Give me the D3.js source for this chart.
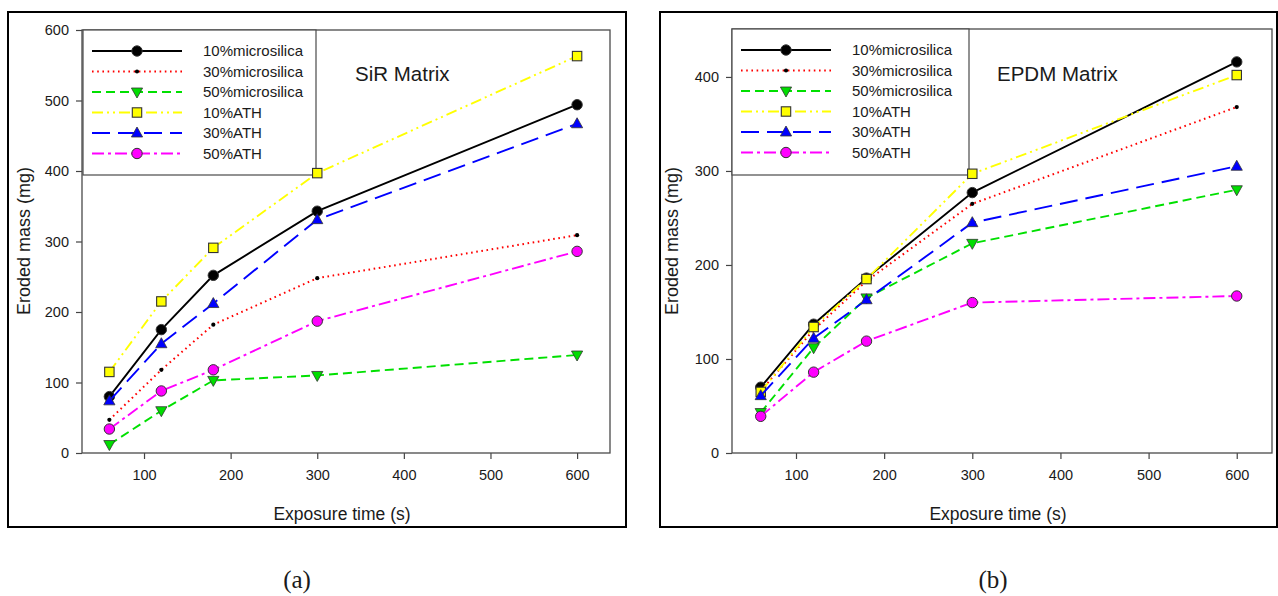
<!DOCTYPE html>
<html>
<head>
<meta charset="utf-8">
<script src="https://cdn.jsdelivr.net/npm/d3@7/dist/d3.min.js"></script>
<style>
  html, body { margin: 0; padding: 0; background: #fff; }
  svg { display: block; }
  text { font-family: "Liberation Sans", Arial, sans-serif; fill: #1a1a1a; }
</style>
</head>
<body>
<svg id="chart" width="1278" height="596"></svg>
<script>
// ---------------- DATA ----------------
const exposureTimes = [60, 120, 180, 300, 600];
const seriesNames = ["10%microsilica", "30%microsilica", "50%microsilica", "10%ATH", "30%ATH", "50%ATH"];

// SiR matrix (panel a), eroded mass in mg
const sir10Microsilica = [80, 175, 252, 343, 494];
const sir30Microsilica = [47, 118, 182, 248, 309];
const sir50Microsilica = [12, 60, 103, 110, 139];
const sir10ATH = [115, 215, 291, 397, 563];
const sir30ATH = [74, 155, 212, 331, 467];
const sir50ATH = [34, 88, 118, 187, 286];

// EPDM matrix (panel b), eroded mass in mg
const epdm10Microsilica = [70, 137, 186, 277, 416];
const epdm30Microsilica = [66, 131, 183, 265, 368];
const epdm50Microsilica = [43, 112, 165, 223, 280];
const epdm10ATH = [65, 134, 185, 297, 402];
const epdm30ATH = [61, 122, 163, 245, 305];
const epdm50ATH = [39, 86, 119, 160, 167];

const xTickValues = [100, 200, 300, 400, 500, 600];
const sirYTicks = [0, 100, 200, 300, 400, 500, 600];
const epdmYTicks = [0, 100, 200, 300, 400];

// ---------------- STYLES ----------------
const seriesStyles = [
  { color: "#000000", dash: null, width: 1.9, marker: "circle", fill: "#000000" },
  { color: "#ff0000", dash: "1.6,3.6", width: 2, marker: "dot", fill: "#000000" },
  { color: "#00e000", dash: "9,5", width: 1.9, marker: "down", fill: "#00dd00" },
  { color: "#ffff00", dash: "11,4,2,4,2,4", width: 1.9, marker: "square", fill: "#ffff00" },
  { color: "#0000ff", dash: "18,8", width: 1.9, marker: "up", fill: "#0000ff" },
  { color: "#ff00ff", dash: "12,4,3,4", width: 1.9, marker: "circle", fill: "#ff00ff" }
];

const svg = d3.select("#chart");

function drawMarker(g, type, x, y, fill) {
  if (type === "circle") {
    g.append("circle").attr("cx", x).attr("cy", y).attr("r", 5.2)
      .attr("fill", fill).attr("stroke", "#333").attr("stroke-width", 1);
  } else if (type === "dot") {
    g.append("circle").attr("cx", x).attr("cy", y).attr("r", 2.1)
      .attr("fill", fill);
  } else if (type === "square") {
    g.append("rect").attr("x", x - 4.7).attr("y", y - 4.7).attr("width", 9.4).attr("height", 9.4)
      .attr("fill", fill).attr("stroke", "#333").attr("stroke-width", 1.1);
  } else if (type === "up") {
    g.append("path").attr("d", `M${x},${y - 6} L${x + 5.6},${y + 4} L${x - 5.6},${y + 4} Z`)
      .attr("fill", fill).attr("stroke", "#333").attr("stroke-width", 0.8);
  } else if (type === "down") {
    g.append("path").attr("d", `M${x},${y + 6} L${x + 5.6},${y - 4} L${x - 5.6},${y - 4} Z`)
      .attr("fill", fill).attr("stroke", "#333").attr("stroke-width", 0.8);
  }
}

function drawPanel(p) {
  // outer frame
  svg.append("rect").attr("x", p.box[0]).attr("y", p.box[1])
    .attr("width", p.box[2] - p.box[0]).attr("height", p.box[3] - p.box[1])
    .attr("fill", "none").attr("stroke", "#000").attr("stroke-width", 2);

  const x = d3.scaleLinear().domain(p.xDomain).range([p.plot.left, p.plot.right]);
  const y = d3.scaleLinear().domain(p.yDomain).range([p.plot.bottom, p.plot.top]);

  // axes
  const xAxis = svg.append("g").attr("transform", `translate(0,${p.plot.bottom})`)
    .call(d3.axisBottom(x).tickValues(xTickValues).tickSize(6).tickPadding(11).tickFormat(d3.format("d")));
  const yAxis = svg.append("g").attr("transform", `translate(${p.plot.left},0)`)
    .call(d3.axisLeft(y).tickValues(p.yTicks).tickSize(6).tickPadding(7).tickFormat(d3.format("d")));
  [xAxis, yAxis].forEach(a => {
    a.select(".domain").remove();
    a.selectAll(".tick line").attr("stroke", "#444").attr("stroke-width", 1.2);
    a.selectAll(".tick text").attr("font-size", "14.5px").attr("fill", "#1a1a1a")
      .attr("font-family", "'Liberation Sans', Arial, sans-serif");
  });

  // plot frame
  svg.append("rect").attr("x", p.plot.left).attr("y", p.plot.top)
    .attr("width", p.plot.right - p.plot.left).attr("height", p.plot.bottom - p.plot.top)
    .attr("fill", "none").attr("stroke", "#4a4a4a").attr("stroke-width", 1.3);

  // axis labels
  svg.append("text").attr("x", (p.plot.left + p.plot.right) / 2 - 4).attr("y", p.xLabelY)
    .attr("text-anchor", "middle").attr("font-size", "17.5px").text("Exposure time (s)");
  svg.append("text").attr("transform", `translate(${p.yLabelX},${p.yLabelCY}) rotate(-90)`)
    .attr("text-anchor", "middle").attr("font-size", "18px").text("Eroded mass (mg)");

  // title
  svg.append("text").attr("x", p.titleX).attr("y", p.titleY).attr("font-size", "20.5px").text(p.title);

  // legend
  const lg = svg.append("g").attr("transform", `translate(${p.legend.x},${p.legend.y})`);
  lg.append("rect").attr("x", 0).attr("y", 0).attr("width", p.legend.w).attr("height", p.legend.h)
    .attr("fill", "#fff").attr("stroke", "#4a4a4a").attr("stroke-width", 1.2);
  seriesNames.forEach((name, i) => {
    const st = seriesStyles[i];
    const ry = 21 + i * 20.5;
    lg.append("line").attr("x1", 9).attr("x2", 99).attr("y1", ry).attr("y2", ry)
      .attr("stroke", st.color).attr("stroke-width", st.width + 0.2)
      .attr("stroke-dasharray", st.dash);
    drawMarker(lg, st.marker, 54, ry, st.fill);
    lg.append("text").attr("x", 120).attr("y", ry).attr("dy", "0.36em")
      .attr("font-size", "15px").text(name);
  });

  // data
  const line = d3.line().x((d, i) => x(exposureTimes[i])).y(d => y(d));
  p.series.forEach((vals, i) => {
    const st = seriesStyles[i];
    const g = svg.append("g");
    g.append("path").datum(vals).attr("d", line).attr("fill", "none")
      .attr("stroke", st.color).attr("stroke-width", st.width)
      .attr("stroke-dasharray", st.dash);
    vals.forEach((v, j) => drawMarker(g, st.marker, x(exposureTimes[j]), y(v), st.fill));
  });

  // caption
  svg.append("text").attr("x", p.captionX).attr("y", 588).attr("text-anchor", "middle")
    .attr("font-size", "25px")
    .style("font-family", "'Liberation Serif', 'Times New Roman', serif")
    .text(p.caption);
}

drawPanel({
  box: [8, 12, 626, 527],
  plot: { left: 82, right: 610, top: 30, bottom: 453 },
  xDomain: [28.4, 638],
  yDomain: [0, 600],
  yTicks: sirYTicks,
  xLabelY: 520,
  yLabelX: 30,
  yLabelCY: 241,
  title: "SiR Matrix",
  titleX: 355, titleY: 81,
  legend: { x: 83, y: 30, w: 233, h: 145 },
  series: [sir10Microsilica, sir30Microsilica, sir50Microsilica, sir10ATH, sir30ATH, sir50ATH],
  caption: "(a)", captionX: 297
});

drawPanel({
  box: [660, 12, 1277, 527],
  plot: { left: 732, right: 1272, top: 29, bottom: 453 },
  xDomain: [27.4, 640],
  yDomain: [0, 451],
  yTicks: epdmYTicks,
  xLabelY: 520,
  yLabelX: 678,
  yLabelCY: 241,
  title: "EPDM Matrix",
  titleX: 997, titleY: 81,
  legend: { x: 732, y: 29, w: 237, h: 146 },
  series: [epdm10Microsilica, epdm30Microsilica, epdm50Microsilica, epdm10ATH, epdm30ATH, epdm50ATH],
  caption: "(b)", captionX: 993
});
</script>
</body>
</html>
